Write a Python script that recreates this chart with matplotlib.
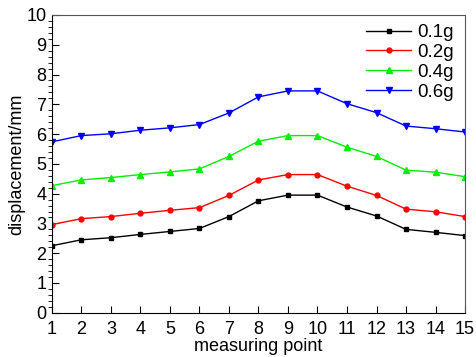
import numpy as np
import matplotlib
matplotlib.use("Agg")
import matplotlib.pyplot as plt
from matplotlib.ticker import MultipleLocator

plt.rcParams['font.family'] = ['Liberation Sans', 'DejaVu Sans']

# dados
points = np.arange(1, 16)
d01 = [2.25, 2.45, 2.52, 2.63, 2.73, 2.83, 3.23, 3.76, 3.95, 3.95, 3.55, 3.25, 2.80, 2.70, 2.59]
d02 = [2.96, 3.16, 3.23, 3.34, 3.44, 3.53, 3.94, 4.46, 4.64, 4.64, 4.25, 3.94, 3.48, 3.39, 3.23]
d04 = [4.27, 4.46, 4.54, 4.64, 4.73, 4.83, 5.25, 5.76, 5.95, 5.95, 5.56, 5.25, 4.79, 4.72, 4.57]
d06 = [5.74, 5.95, 6.01, 6.13, 6.21, 6.32, 6.71, 7.25, 7.45, 7.45, 7.02, 6.72, 6.27, 6.18, 6.07]
labels = ["0.1g", "0.2g", "0.4g", "0.6g"]

fig = plt.figure(figsize=(4.76, 3.57), dpi=100)
ax = fig.add_axes([0.109, 0.124, 0.868, 0.834])

ax.plot(points, d01, color="black", marker="s", ms=3.5, lw=1, label=labels[0])
ax.plot(points, d02, color="red", marker="o", ms=3.5, lw=1, label=labels[1])
ax.plot(points, d04, color="#00ee00", marker="^", ms=4, lw=1, label=labels[2])
ax.plot(points, d06, color="blue", marker="v", ms=4, lw=1, label=labels[3])

ax.set_xlim(1, 15)
ax.set_ylim(0, 10)
ax.set_xticks(points)
ax.yaxis.set_major_locator(MultipleLocator(1))
ax.yaxis.set_minor_locator(MultipleLocator(0.2))
ax.tick_params(axis="both", direction="in", labelsize=13, top=False, right=False)
ax.tick_params(axis="y", which="major", length=5, pad=4)
ax.tick_params(axis="y", which="minor", length=3)
ax.tick_params(axis="x", which="major", length=5, pad=6)

for s in ["top", "right"]:
    ax.spines[s].set_color("#555555")

ax.set_xlabel("measuring point", fontsize=13, labelpad=0)
ax.set_ylabel("displacement/mm", fontsize=13, labelpad=1)

ax.legend(loc="upper right", bbox_to_anchor=(0.99, 0.995), frameon=False,
          fontsize=13.5, handlelength=2.4, handletextpad=0.3,
          labelspacing=0.15, borderaxespad=0)

fig.savefig("out.png", dpi=100)
